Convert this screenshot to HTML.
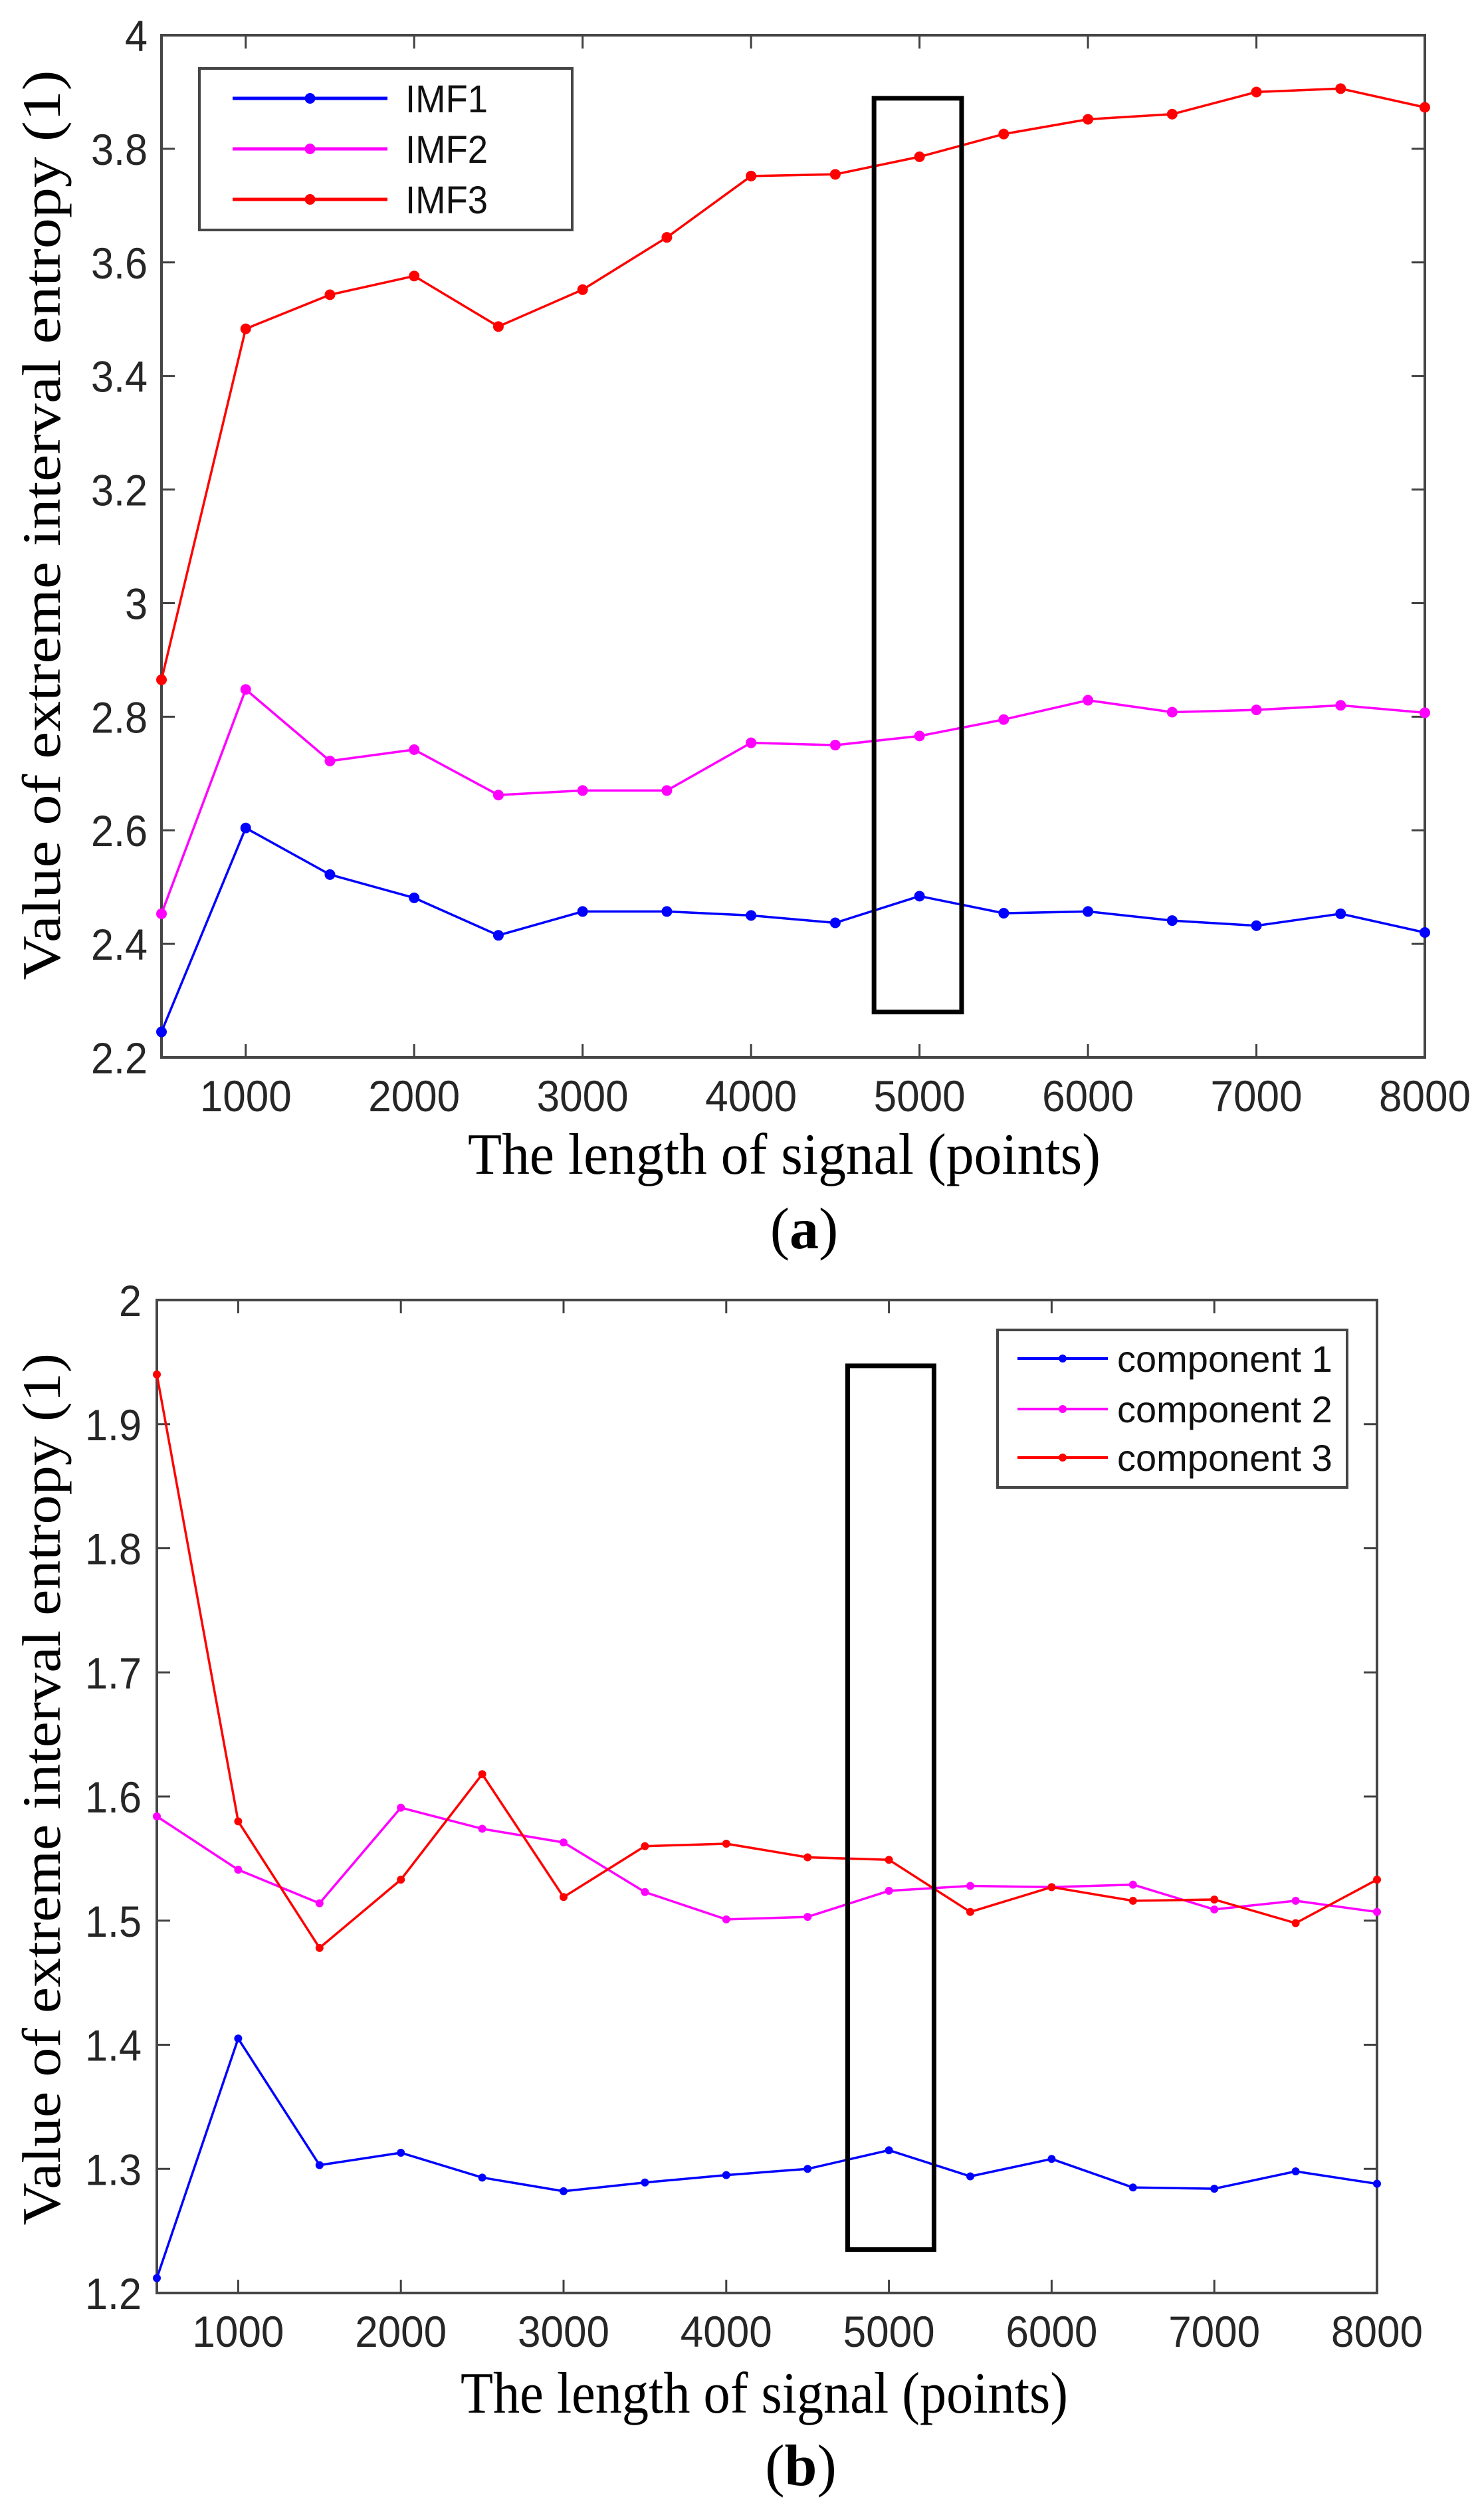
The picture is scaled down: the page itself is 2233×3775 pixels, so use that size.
<!DOCTYPE html>
<html><head><meta charset="utf-8"><style>
html,body{margin:0;padding:0;background:#fff;}
svg{display:block;}
</style></head><body>
<svg id="s" xmlns="http://www.w3.org/2000/svg" width="2233" height="3775" viewBox="0 0 2233 3775">
<rect width="2233" height="3775" fill="#fff"/>
<g id="g"></g>
<!-- Plot a labels -->
<text x="1180" y="1766" font-family="Liberation Serif, serif" font-size="88" text-anchor="middle" textLength="952" lengthAdjust="spacingAndGlyphs">The length of signal (points)</text>
<text x="1210" y="1878" font-family="Liberation Serif, serif" font-size="88" text-anchor="middle">(<tspan font-weight="bold">a</tspan>)</text>
<text transform="translate(90,790) rotate(-90)" font-family="Liberation Serif, serif" font-size="82" text-anchor="middle" textLength="1369" lengthAdjust="spacingAndGlyphs">Value of  extreme interval entropy (1)</text>
<!-- Plot b labels -->
<text x="1150" y="3630" font-family="Liberation Serif, serif" font-size="88" text-anchor="middle" textLength="914" lengthAdjust="spacingAndGlyphs">The length of signal (points)</text>
<text x="1205" y="3739" font-family="Liberation Serif, serif" font-size="88" text-anchor="middle">(<tspan font-weight="bold">b</tspan>)</text>
<text transform="translate(90,2692) rotate(-90)" font-family="Liberation Serif, serif" font-size="82" text-anchor="middle" textLength="1312" lengthAdjust="spacingAndGlyphs">Value of  extreme interval entropy (1)</text>
</svg>
<script>
var NS="http://www.w3.org/2000/svg",g=document.getElementById("g");
function el(t,a,txt){var e=document.createElementNS(NS,t);for(var k in a)e.setAttribute(k,a[k]);if(txt!==undefined)e.textContent=txt;g.appendChild(e);return e;}
var xs=[];for(var i=500;i<=8000;i+=500)xs.push(i);
function plot(P){
  var X=function(v){return P.l+(v-500)/7500*(P.r-P.l);};
  var Y=function(v){return P.b-(v-P.ymin)/(P.ymax-P.ymin)*(P.b-P.t);};
  for(var v=1000;v<=8000;v+=1000){var x=X(v);
    el("line",{x1:x,y1:P.b,x2:x,y2:P.b-20,stroke:"#404040","stroke-width":3});
    el("line",{x1:x,y1:P.t,x2:x,y2:P.t+20,stroke:"#404040","stroke-width":3});
    el("text",{x:x,y:P.b+81,"font-family":"Liberation Sans, sans-serif","font-size":66,"text-anchor":"middle",fill:"#262626",textLength:138,lengthAdjust:"spacingAndGlyphs"},String(v));}
  P.yt.forEach(function(v){var y=Y(v);
    el("line",{x1:P.l,y1:y,x2:P.l+20,y2:y,stroke:"#404040","stroke-width":3});
    el("line",{x1:P.r,y1:y,x2:P.r-20,y2:y,stroke:"#404040","stroke-width":3});
    var s=P.fmt(v);
    el("text",{x:P.lx,y:y+24,"font-family":"Liberation Sans, sans-serif","font-size":66,"text-anchor":"end",fill:"#262626",textLength:(s.length==1?34:85),lengthAdjust:"spacingAndGlyphs"},s);});
  el("rect",{x:P.l,y:P.t,width:P.r-P.l,height:P.b-P.t,fill:"none",stroke:"#454545","stroke-width":4});
  P.series.forEach(function(S){
    var pts=S.d.map(function(v,i){return X(xs[i]).toFixed(1)+","+Y(v).toFixed(1);}).join(" ");
    el("polyline",{points:pts,fill:"none",stroke:S.c,"stroke-width":3.5,"stroke-linejoin":"round"});
    S.d.forEach(function(v,i){el("circle",{cx:X(xs[i]),cy:Y(v),r:P.mr,fill:S.c});});
  });
  el("rect",{x:X(P.box[0]),y:Y(P.box[2]),width:X(P.box[1])-X(P.box[0]),height:Y(P.box[3])-Y(P.box[2]),fill:"none",stroke:"#000","stroke-width":7});
  var L=P.leg;
  el("rect",{x:L.x,y:L.y,width:L.w,height:L.h,fill:"#fff",stroke:"#454545","stroke-width":4});
  P.series.forEach(function(S,i){var y=L.rows[i];
    el("line",{x1:L.l1,y1:y,x2:L.l2,y2:y,stroke:S.c,"stroke-width":L.lw});
    el("circle",{cx:(L.l1+L.l2)/2,cy:y,r:P.mr,fill:S.c});
    var a={x:L.tx,y:y+L.fs*0.36,"font-family":"Liberation Sans, sans-serif","font-size":L.fs,fill:"#111"};
    if(L.tl)a.textLength=L.tl,a.lengthAdjust="spacingAndGlyphs";
    el("text",a,S.n);});
}
plot({l:243,r:2144,t:53,b:1591,ymin:2.2,ymax:4,lx:222,mr:8,
  yt:[2.2,2.4,2.6,2.8,3,3.2,3.4,3.6,3.8,4],
  fmt:function(v){return (Math.round(v*10)/10).toString();},
  box:[4730,5250,3.889,2.28],
  leg:{x:300,y:103,w:561,h:243,rows:[148,224,300],l1:350,l2:583,tx:610,fs:58,tl:124,lw:5},
  series:[
   {n:"IMF1",c:"#0000ff",d:[2.245,2.604,2.522,2.481,2.415,2.457,2.457,2.450,2.437,2.484,2.454,2.457,2.441,2.432,2.453,2.420]},
   {n:"IMF2",c:"#ff00ff",d:[2.453,2.848,2.722,2.742,2.662,2.670,2.670,2.754,2.750,2.766,2.795,2.829,2.808,2.812,2.820,2.807]},
   {n:"IMF3",c:"#ff0000",d:[2.865,3.483,3.543,3.576,3.487,3.552,3.644,3.752,3.755,3.786,3.826,3.852,3.861,3.900,3.906,3.873]}]});
plot({l:236,r:2072,t:1956,b:3450,ymin:1.2,ymax:2,lx:213,mr:6,
  yt:[1.2,1.3,1.4,1.5,1.6,1.7,1.8,1.9,2],
  fmt:function(v){return (Math.round(v*10)/10).toString();},
  box:[4746,5277,1.947,1.235],
  leg:{x:1501,y:2001,w:526,h:237,rows:[2044,2120,2193],l1:1531,l2:1667,tx:1681,fs:56,tl:0,lw:4},
  series:[
   {n:"component 1",c:"#0000ff",d:[1.212,1.405,1.303,1.313,1.293,1.282,1.289,1.295,1.300,1.315,1.294,1.308,1.285,1.284,1.298,1.288]},
   {n:"component 2",c:"#ff00ff",d:[1.584,1.541,1.514,1.591,1.574,1.563,1.523,1.501,1.503,1.524,1.528,1.527,1.529,1.509,1.516,1.507]},
   {n:"component 3",c:"#ff0000",d:[1.94,1.58,1.478,1.533,1.618,1.519,1.560,1.562,1.551,1.549,1.507,1.527,1.516,1.517,1.498,1.533]}]});
</script>
</body></html>
